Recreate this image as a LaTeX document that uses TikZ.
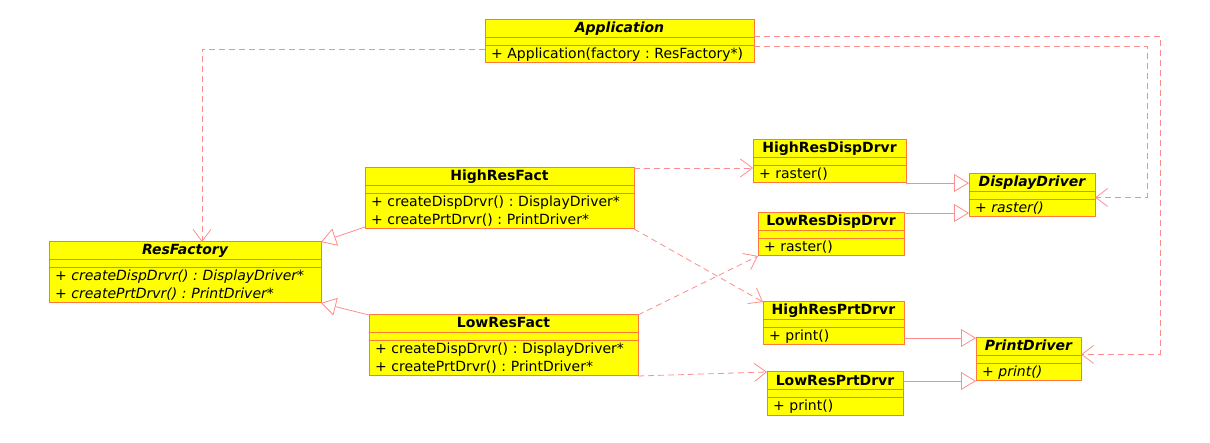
\documentclass[tikz,border=0pt]{standalone}
\usepackage{fontspec}
\setmainfont{DejaVu Sans}
\usetikzlibrary{shapes.multipart,arrows.meta}
\definecolor{classfill}{RGB}{255,255,0}
\definecolor{classline}{RGB}{255,120,60}
\definecolor{linkline}{RGB}{255,140,140}
\newcommand{\ustrut}{\rule[-4pt]{0pt}{16.5pt}}
\newcommand{\utitle}[1]{\makebox[\hsize][c]{\ustrut\bfseries#1}\nodepart{two}\rule{0pt}{7pt}}
\tikzset{
  umlclass/.style={rectangle split, rectangle split parts=3, draw=classline, fill=classfill,
    line width=1pt, inner xsep=6pt, inner ysep=0pt, outer sep=0pt, anchor=north west,
    align=left, font=\fontsize{14}{18}\selectfont\frenchspacing},
  depend/.style={draw=linkline, line width=0.8pt, dash pattern=on 6pt off 4pt,
    -{Straight Barb[length=12pt,width=18pt]}},
  inherit/.style={draw=linkline, line width=0.8pt, -{Triangle[open,length=15pt,width=18pt]}}
}
\begin{document}
\begin{tikzpicture}[x=1pt, y=-1pt]
    \useasboundingbox (0,0) rectangle (1210,443);
    \node[umlclass, text width=257pt] (app) at (485,20) {\utitle{\itshape Application}\nodepart{three}\ustrut+ Application(factory : ResFactory*)};
    \node[umlclass, text width=260pt] (resf) at (49,242) {\utitle{\itshape ResFactory}\nodepart{three}\itshape\ustrut+ createDispDrvr() : DisplayDriver*\\\ustrut+ createPrtDrvr() : PrintDriver*};
    \node[umlclass, text width=257pt] (hrf) at (365,168) {\utitle{HighResFact}\nodepart{three}\ustrut+ createDispDrvr() : DisplayDriver*\\\ustrut+ createPrtDrvr() : PrintDriver*};
    \node[umlclass, text width=257pt] (lrf) at (369,315) {\utitle{LowResFact}\nodepart{three}\ustrut+ createDispDrvr() : DisplayDriver*\\\ustrut+ createPrtDrvr() : PrintDriver*};
    \node[umlclass, text width=141pt] (hrdd) at (753,140) {\utitle{HighResDispDrvr}\nodepart{three}\ustrut+ raster()};
    \node[umlclass, text width=134pt] (lrdd) at (758,213) {\utitle{LowResDispDrvr}\nodepart{three}\ustrut+ raster()};
    \node[umlclass, text width=114pt] (dd) at (969,174) {\utitle{\itshape DisplayDriver}\nodepart{three}\itshape\ustrut+ raster()};
    \node[umlclass, text width=129pt] (hrpd) at (763,302) {\utitle{HighResPrtDrvr}\nodepart{three}\ustrut+ print()};
    \node[umlclass, text width=124pt] (lrpd) at (767,372) {\utitle{LowResPrtDrvr}\nodepart{three}\ustrut+ print()};
    \node[umlclass, text width=93pt] (pd) at (976,338) {\utitle{\itshape PrintDriver}\nodepart{three}\itshape\ustrut+ print()};
    \draw[depend] ([yshift=-8pt]app.west) -| ([xshift=17pt]resf.north);
    \draw[depend] ([yshift=-5pt]app.east) -- ++(393,0) |- ([yshift=-2pt]dd.east);
    \draw[depend] ([yshift=5pt]app.east) -- ++(406,0) |- ([yshift=5pt]pd.east);
    \draw[depend] (hrf.north east) -- (hrdd.west |- hrf.north east);
    \draw[depend] (hrf.south east) -- (hrpd.north west);
    \draw[depend] (lrf.north east) -- (lrdd.south west);
    \draw[depend] (lrf.south east) -- (lrpd.north west);
    \draw[inherit] ([yshift=2pt]hrf.south west) -- (resf.north east);
    \draw[inherit] (lrf.north west) -- (resf.south east);
    \draw[inherit] (hrdd.south east) -- (dd.west |- hrdd.south east);
    \draw[inherit] (lrdd.north east) -- (dd.west |- lrdd.north east);
    \draw[inherit] (hrpd.east |- pd.north west) -- (pd.north west);
    \draw[inherit] (lrpd.east |- pd.south west) -- (pd.south west);
\end{tikzpicture}
\end{document}
